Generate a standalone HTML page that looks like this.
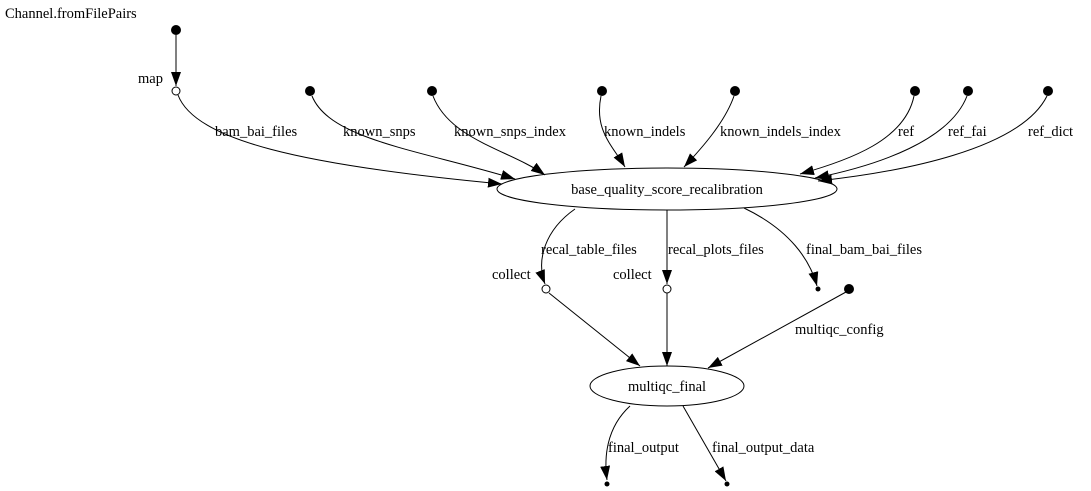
<!DOCTYPE html>
<html><head><meta charset="utf-8"><style>
html,body{margin:0;padding:0;background:#fff;}
svg{display:block;}
text{font-family:"Liberation Serif",serif;font-size:14.5px;fill:#000;}
</style></head><body>
<svg width="1091" height="491" viewBox="0 0 1091 491" xmlns="http://www.w3.org/2000/svg">
<defs>
<marker id="a" markerWidth="10" markerHeight="8" refX="10" refY="4" orient="auto" markerUnits="userSpaceOnUse">
<path d="M0,0 L10,4 L0,8 Z" fill="#000"/>
</marker>
<marker id="b" markerWidth="14" markerHeight="10" refX="14" refY="5" orient="auto" markerUnits="userSpaceOnUse">
<path d="M0,0 L14,5 L0,10 Z" fill="#000"/>
</marker>
</defs>
<g fill="none" stroke="#000" stroke-width="1">
<path d="M176,35 L176,86" marker-end="url(#b)"/>
<path d="M178,95 C195,140 300,165 502,184" marker-end="url(#b)"/>
<path d="M312,96 C330,140 420,150 515,179" marker-end="url(#b)"/>
<path d="M433,96 C450,140 510,150 545,175" marker-end="url(#b)"/>
<path d="M601,96 C594,130 612,145 625,167" marker-end="url(#b)"/>
<path d="M734,96 C725,122 702,148 684,167" marker-end="url(#b)"/>
<path d="M914,96 C905,140 850,160 800,174" marker-end="url(#b)"/>
<path d="M967,96 C950,140 880,165 815,178" marker-end="url(#b)"/>
<path d="M1047,96 C1020,150 900,172 818,181" marker-end="url(#b)"/>
<path d="M575,209 C545,230 536,260 545,284" marker-end="url(#b)"/>
<path d="M667,210 L667,284" marker-end="url(#b)"/>
<path d="M744,208 C790,230 810,260 817,286" marker-end="url(#b)"/>
<path d="M549,293 L640,366" marker-end="url(#b)"/>
<path d="M667,293 L667,366" marker-end="url(#b)"/>
<path d="M846,292 L708,368" marker-end="url(#b)"/>
<path d="M630,406 C606,428 604,458 607,480" marker-end="url(#b)"/>
<path d="M683,406 L726,481" marker-end="url(#b)"/>
<ellipse cx="667" cy="189" rx="170" ry="21"/>
<ellipse cx="667" cy="386" rx="77" ry="20"/>
</g>
<g fill="#000">
<circle cx="176" cy="30" r="5"/>
<circle cx="310" cy="91" r="5"/>
<circle cx="432" cy="91" r="5"/>
<circle cx="602" cy="91" r="5"/>
<circle cx="735" cy="91" r="5"/>
<circle cx="915" cy="91" r="5"/>
<circle cx="968" cy="91" r="5"/>
<circle cx="1048" cy="91" r="5"/>
<circle cx="849" cy="289" r="5"/>
<circle cx="818" cy="289" r="2.5"/>
<circle cx="607" cy="484" r="2.5"/>
<circle cx="727" cy="484" r="2.5"/>
</g>
<g fill="#fff" stroke="#000">
<circle cx="176" cy="91" r="4"/>
<circle cx="546" cy="289" r="4"/>
<circle cx="667" cy="289" r="4"/>
</g>
<text x="5" y="18">Channel.fromFilePairs</text>
<text x="138" y="83">map</text>
<text x="215" y="136">bam_bai_files</text>
<text x="343" y="136">known_snps</text>
<text x="454" y="136">known_snps_index</text>
<text x="604" y="136">known_indels</text>
<text x="720" y="136">known_indels_index</text>
<text x="898" y="136">ref</text>
<text x="948" y="136">ref_fai</text>
<text x="1028" y="136">ref_dict</text>
<text x="667" y="194" text-anchor="middle">base_quality_score_recalibration</text>
<text x="541" y="254">recal_table_files</text>
<text x="668" y="254">recal_plots_files</text>
<text x="806" y="254">final_bam_bai_files</text>
<text x="492" y="279">collect</text>
<text x="613" y="279">collect</text>
<text x="795" y="334">multiqc_config</text>
<text x="667" y="391" text-anchor="middle">multiqc_final</text>
<text x="608" y="452">final_output</text>
<text x="712" y="452">final_output_data</text>
</svg>
</body></html>
